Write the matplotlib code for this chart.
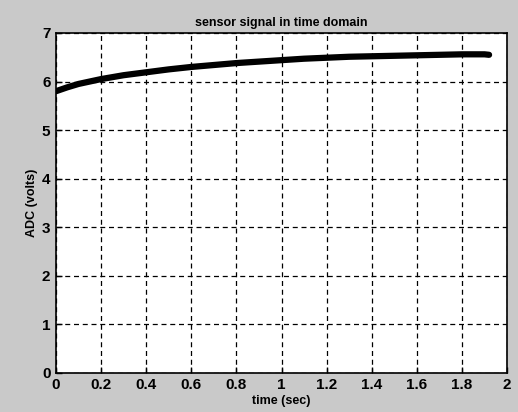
import numpy as np
import matplotlib as mpl
mpl.use('Agg')
import matplotlib.pyplot as plt

# values
time_sec = [0.0, 0.05, 0.1, 0.2, 0.3, 0.4, 0.5, 0.6, 0.7, 0.8, 0.9, 1.0,
            1.1, 1.2, 1.3, 1.4, 1.5, 1.6, 1.7, 1.8, 1.9, 1.92]
adc_volts = [5.80, 5.88, 5.95, 6.05, 6.13, 6.19, 6.25, 6.30, 6.34, 6.38, 6.41, 6.44,
             6.47, 6.49, 6.51, 6.52, 6.53, 6.54, 6.55, 6.56, 6.56, 6.55]
x_ticks = [0, 0.2, 0.4, 0.6, 0.8, 1, 1.2, 1.4, 1.6, 1.8, 2]
x_labels = ['0', '0.2', '0.4', '0.6', '0.8', '1', '1.2', '1.4', '1.6', '1.8', '2']
y_ticks = [0, 1, 2, 3, 4, 5, 6, 7]

plt.rcParams['font.family'] = ['Liberation Sans', 'DejaVu Sans']

fig = plt.figure(figsize=(5.18, 4.12), dpi=100)
fig.patch.set_facecolor('#c9c9c9')
ax = fig.add_axes([0.108, 0.095, 0.871, 0.825])
ax.set_facecolor('white')

ax.plot(time_sec, adc_volts, color='black', linewidth=4.5, solid_capstyle='round')

ax.set_xlim(0, 2)
ax.set_ylim(0, 7)
ax.set_xticks(x_ticks)
ax.set_xticklabels(x_labels)
ax.set_yticks(y_ticks)
ax.grid(True, color='black', linestyle=(0, (4, 3)), linewidth=0.9)
ax.tick_params(direction='in', length=4, width=1, labelsize=11, pad=4)
for lbl in ax.get_xticklabels() + ax.get_yticklabels():
    lbl.set_fontweight('bold')
for s in ax.spines.values():
    s.set_linewidth(1.2)

ax.set_title('sensor signal in time domain', fontsize=9, fontweight='bold', pad=5)
ax.set_xlabel('time (sec)', fontsize=9, fontweight='bold', labelpad=2)
ax.set_ylabel('ADC (volts)', fontsize=9, fontweight='bold', labelpad=3)

fig.savefig('out.png', dpi=100, facecolor=fig.get_facecolor())
